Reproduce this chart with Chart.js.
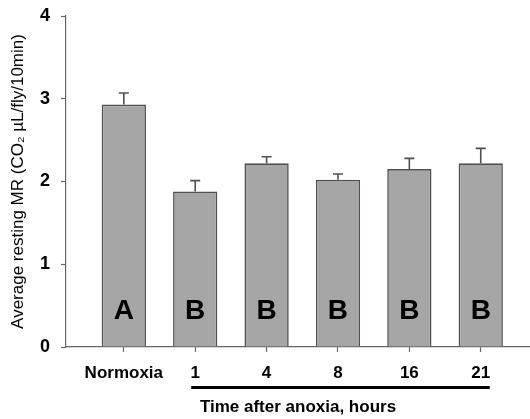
<!DOCTYPE html>
<html>
<head>
<meta charset="utf-8">
<script src="https://cdn.jsdelivr.net/npm/chart.js@4.4.1/dist/chart.umd.min.js"></script>
<style>
  html, body { margin: 0; padding: 0; background: #fff; }
  #wrap { width: 530px; height: 419px; }
</style>
</head>
<body>
<div id="wrap"><canvas id="chartMR" width="530" height="419"></canvas></div>
<script>
// Taux métabolique au repos après anoxie (moyenne + erreur standard)
const groups  = ['Normoxia', '1', '4', '8', '16', '21'];
const means   = [2.93, 1.88, 2.22, 2.02, 2.15, 2.22];
const errors  = [0.14, 0.13, 0.08, 0.07, 0.13, 0.18];
const letters = ['A', 'B', 'B', 'B', 'B', 'B'];
const yTicks  = [0, 1, 2, 3, 4];

const FONT = 'Arial, "Liberation Sans", sans-serif';
const AXIS = '#666666';
const EDGE = '#505050';

// barres d'erreur (vers le haut seulement) + lettres de groupe + trait sous les heures
const extras = {
  id: 'extras',
  afterDatasetsDraw(chart) {
    const { ctx, scales: { x, y } } = chart;
    const meta = chart.getDatasetMeta(0);
    ctx.save();
    meta.data.forEach((bar, i) => {
      const top = y.getPixelForValue(means[i] + errors[i]);
      ctx.strokeStyle = EDGE;
      ctx.lineWidth = 1.6;
      ctx.beginPath();
      ctx.moveTo(bar.x, bar.y);
      ctx.lineTo(bar.x, top);
      ctx.moveTo(bar.x - 5, top);
      ctx.lineTo(bar.x + 5, top);
      ctx.stroke();

      ctx.fillStyle = '#000';
      ctx.font = 'bold 28px ' + FONT;
      ctx.textAlign = 'center';
      ctx.textBaseline = 'alphabetic';
      ctx.fillText(letters[i], bar.x, y.getPixelForValue(0) - 28);
    });

    // trait sous les heures après anoxie
    const x1 = x.getPixelForValue(1) - 4;
    const x2 = x.getPixelForValue(groups.length - 1) + 9;
    ctx.strokeStyle = '#000';
    ctx.lineWidth = 3;
    ctx.beginPath();
    ctx.moveTo(x1, 387.5);
    ctx.lineTo(x2, 387.5);
    ctx.stroke();
    ctx.restore();
  }
};

new Chart(document.getElementById('chartMR'), {
  type: 'bar',
  data: {
    datasets: [{
      data: means.map((v, i) => ({ x: i, y: v })),
      backgroundColor: '#a6a6a6',
      borderColor: EDGE,
      borderWidth: 1.6,
      barPercentage: 0.62,
      categoryPercentage: 1
    }]
  },
  options: {
    responsive: false,
    animation: false,
    layout: { padding: { top: 16, right: 0, left: 0, bottom: 0 } },
    plugins: { legend: { display: false }, tooltip: { enabled: false } },
    scales: {
      x: {
        type: 'linear',
        offset: false,
        min: -0.81,
        max: 5.69,
        afterBuildTicks: s => { s.ticks = groups.map((g, i) => ({ value: i })); },
        afterFit: s => { s.height = 72; },
        border: { color: AXIS, width: 1.2 },
        grid: { offset: false, drawOnChartArea: false, color: AXIS, tickLength: 5, tickWidth: 1.2 },
        ticks: {
          autoSkip: false,
          maxRotation: 0,
          padding: 11,
          color: '#000',
          font: { family: FONT, size: 17, weight: 'bold' },
          callback: v => groups[v]
        },
        title: {
          display: true,
          text: 'Time after anoxia, hours',
          color: '#000',
          padding: { top: 0, bottom: 1 },
          font: { family: FONT, size: 17, weight: 'bold' }
        }
      },
      y: {
        min: 0,
        max: 4,
        afterBuildTicks: s => { s.ticks = yTicks.map(v => ({ value: v })); },
        afterFit: s => { s.width = 66; s.paddingTop = 0; },
        border: { color: AXIS, width: 1.2 },
        grid: { drawOnChartArea: false, color: AXIS, tickLength: 5, tickWidth: 1.2 },
        ticks: {
          padding: 11,
          color: '#000',
          font: { family: FONT, size: 18, weight: 'bold' }
        },
        title: {
          display: true,
          text: 'Average resting MR (CO\u2082 \u00b5L/fly/10min)',
          color: '#000',
          padding: { top: 8, bottom: 0 },
          font: { family: FONT, size: 17 }
        }
      }
    }
  },
  plugins: [extras]
});
</script>
</body>
</html>
